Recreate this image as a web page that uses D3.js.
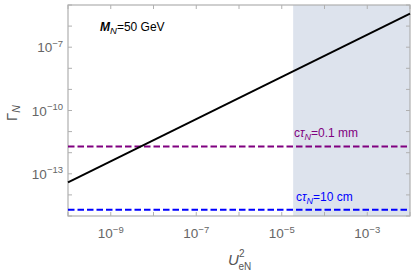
<!DOCTYPE html>
<html><head><meta charset="utf-8">
<script src="https://cdn.jsdelivr.net/npm/d3@7"></script>
<style>body{margin:0;background:#fff}svg{display:block}</style>
</head><body><svg id="c" width="415" height="274"></svg>
<script>
// data
const xDomain = [1e-10, 1e-2];
const yDomain = [1e-15, 1e-5];
const gammaLineU2 = [1e-10, 1e-2];
const gammaLineG = [3.9e-14, 3.9e-6];
const shadeRange = [1.85e-5, 1e-2];
const ctauLevels = [1.97e-12, 1.97e-15];
const ctauLabels = ["0.1 mm", "10 cm"];
const ctauColors = ["#800080", "#0000ff"];
const xTickExps = [-9, -7, -5, -3];
const yTickExps = [-13, -10, -7];
const allXDecades = d3.range(-10, -1);
const allYDecades = d3.range(-15, -4);

const svg = d3.select("#c");
const L = 68, R = 410, T = 5, B = 216;
const x = d3.scaleLog().domain(xDomain).range([L, R]);
const y = d3.scaleLog().domain(yDomain).range([B, T]);
const font = "'Liberation Sans', Arial, sans-serif";

svg.append("rect").attr("x", x(shadeRange[0])).attr("y", T)
  .attr("width", x(shadeRange[1]) - x(shadeRange[0])).attr("height", B - T)
  .attr("fill", "#dde3ed");

// frame
const frameCol = "#b0b0b0";
svg.append("rect").attr("x", L).attr("y", T).attr("width", R - L).attr("height", B - T)
  .attr("fill", "none").attr("stroke", frameCol).attr("stroke-width", 1.2);
// ticks
allXDecades.forEach(e => {
  const xv = x(Math.pow(10, e));
  svg.append("line").attr("x1", xv).attr("x2", xv).attr("y1", B).attr("y2", B - 4).attr("stroke", frameCol);
  svg.append("line").attr("x1", xv).attr("x2", xv).attr("y1", T).attr("y2", T + 4).attr("stroke", frameCol);
});
allYDecades.forEach(e => {
  const yv = y(Math.pow(10, e));
  svg.append("line").attr("x1", L).attr("x2", L + 4).attr("y1", yv).attr("y2", yv).attr("stroke", frameCol);
  svg.append("line").attr("x1", R).attr("x2", R - 4).attr("y1", yv).attr("y2", yv).attr("stroke", frameCol);
});

const tickCol = "#666";
xTickExps.forEach(e => {
  const t = svg.append("text").attr("x", x(Math.pow(10, e))).attr("y", 238)
    .attr("text-anchor", "middle").attr("font-family", font).attr("font-size", 13.5).attr("fill", tickCol);
  t.append("tspan").text("10");
  t.append("tspan").attr("dy", -5.5).attr("font-size", 9.5).text("\u2212" + Math.abs(e));
});
yTickExps.forEach(e => {
  const t = svg.append("text").attr("x", 63).attr("y", y(Math.pow(10, e)) + 5)
    .attr("text-anchor", "end").attr("font-family", font).attr("font-size", 13.5).attr("fill", tickCol);
  t.append("tspan").text("10");
  t.append("tspan").attr("dy", -5.5).attr("font-size", 9.5).text("\u2212" + Math.abs(e));
});

// dashed lines
ctauLevels.forEach((v, i) => {
  svg.append("line").attr("x1", L).attr("x2", R).attr("y1", y(v)).attr("y2", y(v))
    .attr("stroke", ctauColors[i]).attr("stroke-width", 1.9).attr("stroke-dasharray", "6.5,3");
});

// main line
const line = d3.line().x(d => x(d[0])).y(d => y(d[1]));
svg.append("path").datum(gammaLineU2.map((u, i) => [u, gammaLineG[i]]))
  .attr("d", line).attr("fill", "none").attr("stroke", "#000").attr("stroke-width", 1.9);

// labels
const lab = svg.append("text").attr("x", 100).attr("y", 31).attr("font-family", font).attr("font-size", 12).attr("fill", "#000");
lab.append("tspan").attr("font-weight", "bold").attr("font-style", "italic").text("M");
lab.append("tspan").attr("font-style", "italic").attr("font-size", 9.5).attr("dy", 3).text("N");
lab.append("tspan").attr("dy", -3).text("=50 GeV");

const ctauLabelPos = [[294, 137], [296, 201]];
ctauLabels.forEach((s, i) => {
  const t = svg.append("text").attr("x", ctauLabelPos[i][0]).attr("y", ctauLabelPos[i][1])
    .attr("font-family", font).attr("font-size", 12).attr("fill", ctauColors[i]);
  t.append("tspan").text("c");
  t.append("tspan").attr("font-style", "italic").text("\u03c4");
  t.append("tspan").attr("font-style", "italic").attr("font-size", 9).attr("dy", 3).text("N");
  t.append("tspan").attr("dy", -3).text("=" + s);
});

// axis labels
const yl = svg.append("text").attr("transform", "translate(17,113) rotate(-90)")
  .attr("text-anchor", "middle").attr("font-family", font).attr("font-size", 15).attr("fill", "#555");
yl.append("tspan").text("\u0393");
yl.append("tspan").attr("font-style", "italic").attr("font-size", 10.5).attr("dy", 3).text("N");

svg.append("text").attr("x", 228).attr("y", 265)
  .attr("font-family", font).attr("font-size", 15).attr("font-style", "italic").attr("fill", "#555").text("U");
svg.append("text").attr("x", 239).attr("y", 257)
  .attr("font-family", font).attr("font-size", 10).attr("fill", "#555").text("2");
svg.append("text").attr("x", 238.5).attr("y", 270)
  .attr("font-family", font).attr("font-size", 10).attr("fill", "#555").text("eN");
</script></body></html>
